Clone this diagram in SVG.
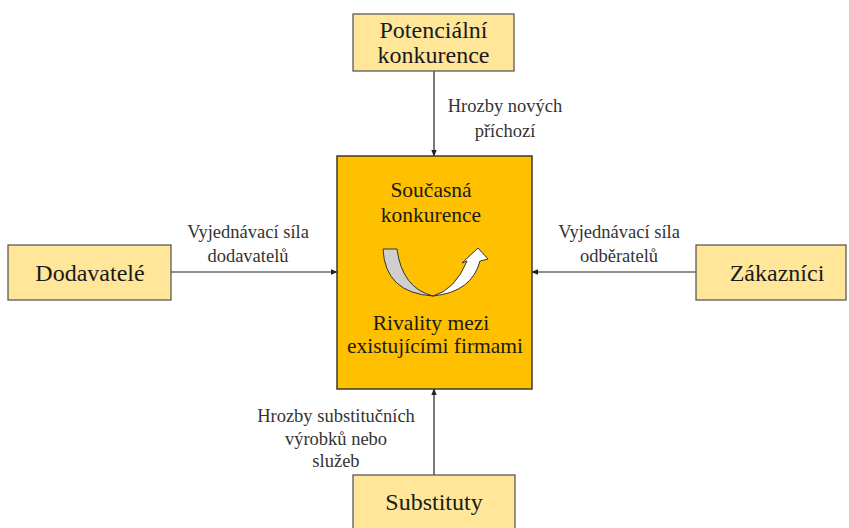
<svg xmlns="http://www.w3.org/2000/svg" width="849" height="528" viewBox="0 0 849 528">
<style>
.box{fill:#FFE699;stroke:#5a5a5a;stroke-width:1.3}
.core{fill:#FFC000;stroke:#3f3a2a;stroke-width:1.5}
text{font-family:'Liberation Serif','DejaVu Serif',serif;text-anchor:middle}
.t{font-size:24px;fill:#1a1a1a}
.c{font-size:21.5px;fill:#1a1a1a}
.l{font-size:18.5px;fill:#333}
.cn{stroke:#222;stroke-width:1.2;fill:none;marker-end:url(#ah)}
</style>
<defs>
<marker id="ah" viewBox="0 0 10 10" refX="9" refY="5" markerWidth="7" markerHeight="7" markerUnits="userSpaceOnUse" orient="auto">
<path d="M0,1 L10,5 L0,9 Z" fill="#222"/>
</marker>
</defs>
<rect width="849" height="528" fill="#fff"/>
<g id="connectors">
<line class="cn" x1="434" y1="71" x2="434" y2="156"/>
<line class="cn" x1="171" y1="272" x2="337" y2="272"/>
<line class="cn" x1="696" y1="272" x2="532" y2="272"/>
<line class="cn" x1="434" y1="475" x2="434" y2="389"/>
<text class="l" x="505" y="112">Hrozby nových</text>
<text class="l" x="505" y="137">příchozí</text>
<text class="l" x="248" y="238">Vyjednávací síla</text>
<text class="l" x="248" y="262">dodavatelů</text>
<text class="l" x="619" y="238">Vyjednávací síla</text>
<text class="l" x="619" y="262">odběratelů</text>
<text class="l" x="336" y="422">Hrozby substitučních</text>
<text class="l" x="336" y="445">výrobků nebo</text>
<text class="l" x="336" y="467">služeb</text>
</g>
<g id="potencialni">
<rect class="box" x="353" y="14" width="161" height="57"/>
<text class="t" x="433.5" y="38">Potenciální</text>
<text class="t" x="433.5" y="63">konkurence</text>
</g>
<g id="dodavatele">
<rect class="box" x="8" y="245" width="163" height="55"/>
<text class="t" x="90" y="281">Dodavatelé</text>
</g>
<g id="zakaznici">
<rect class="box" x="696" y="245" width="150" height="55"/>
<text class="t" x="777" y="281">Zákazníci</text>
</g>
<g id="substituty">
<rect class="box" x="353" y="475" width="162" height="60"/>
<text class="t" x="434" y="510">Substituty</text>
</g>
<g id="soucasna">
<rect class="core" x="337" y="156" width="195" height="233"/>
<text class="c" x="431" y="197">Současná</text>
<text class="c" x="431" y="222">konkurence</text>
<path d="M383,249 L397,249 Q402,288 433,296 Q385,293 383,249 Z" fill="#cfcfcf" stroke="#333" stroke-width="1"/>
<path d="M433,296 Q472,292 480,261 L488,259 L478,248 L462,263 L467,261 Q455,290 433,296 Z" fill="#fff" stroke="#333" stroke-width="1"/>
<text class="c" x="431" y="330">Rivality mezi</text>
<text class="c" x="435" y="353">existujícími firmami</text>
</g>
</svg>
